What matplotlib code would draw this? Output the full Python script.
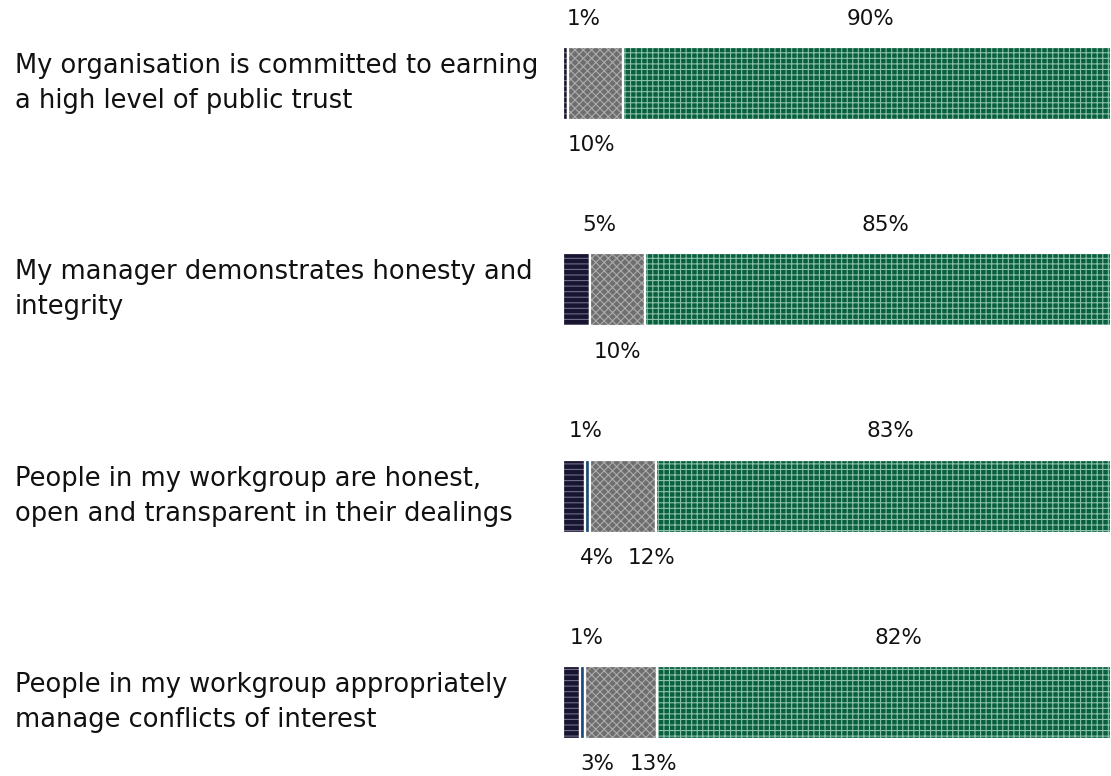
import matplotlib
matplotlib.use("Agg")
import matplotlib.pyplot as plt

# Datos
questions = [
    "My organisation is committed to earning\na high level of public trust",
    "My manager demonstrates honesty and\nintegrity",
    "People in my workgroup are honest,\nopen and transparent in their dealings",
    "People in my workgroup appropriately\nmanage conflicts of interest",
]
strongly_disagree = [1, 5, 4, 3]
disagree = [0, 0, 1, 1]
neutral = [10, 10, 12, 13]
agree = [90, 85, 83, 82]

plt.rcParams["font.family"] = ["DejaVu Sans"]
plt.rcParams["hatch.linewidth"] = 0.8

# estilos de cada segmento: relleno, color del patron, patron
styles = [
    ("#17152f", "#6e6c86", "---"),
    ("#1d4877", "#9fb4cc", "|"),
    ("#6e6e6e", "#acacac", "xxxx"),
    ("#08603f", "#8cbfa8", "+++"),
]
series = [strongly_disagree, disagree, neutral, agree]

# lado de la etiqueta (arriba / abajo) y ajuste manual en x
label_side = [
    ["top", None, "bottom", "top"],
    ["top", None, "bottom", "top"],
    ["bottom", "top", "bottom", "top"],
    ["bottom", "top", "bottom", "top"],
]
label_nudge = [
    [3.2, 0, -0.7, 0.6],
    [4.2, 0, 0.0, 1.3],
    [4.2, -0.3, 5.1, 1.2],
    [4.7, 0.7, 5.9, 2.6],
]

fig = plt.figure(figsize=(11.11, 7.76), dpi=100)
ax = fig.add_axes([563 / 1111, 0, 548 / 1111, 1])

rows = list(range(len(questions)))
totals = [sum(s[i] for s in series) for i in rows]
bar_h = 0.354

# cada fila se escala a su total para llenar el 100 %
left = [0.0] * len(rows)
for vals, (fill, hcol, hatch) in zip(series, styles):
    widths = [v / t * 100 for v, t in zip(vals, totals)]
    ax.barh(rows, widths, left=left, height=bar_h, color=fill,
            edgecolor=hcol, linewidth=0, hatch=hatch)
    # separadores blancos
    ax.barh(rows, widths, left=left, height=bar_h, fill=False,
            edgecolor="white", linewidth=1.6)
    left = [l + w for l, w in zip(left, widths)]

# etiquetas de porcentaje
for i in rows:
    start = 0.0
    for j, vals in enumerate(series):
        v = vals[i]
        w = v / totals[i] * 100
        side = label_side[i][j]
        if side is not None:
            x = start + w / 2 + label_nudge[i][j]
            y = i - 0.315 if side == "top" else i + 0.30
            ax.text(x, y, f"{v}%", ha="center", va="center",
                    fontsize=15.5, color="#111111")
        start += w

# preguntas a la izquierda
for i, q in zip(rows, questions):
    ax.text(-563 / 5.48 + 15 / 5.48, i, q, ha="left", va="center",
            fontsize=18.5, color="#111111", linespacing=1.45,
            clip_on=False)

ax.set_xlim(0, 100)
ax.set_ylim(3 + 73.5 / 206.33, -83.5 / 206.33)
ax.axis("off")

fig.savefig("out.png", dpi=100)
plt.close(fig)
